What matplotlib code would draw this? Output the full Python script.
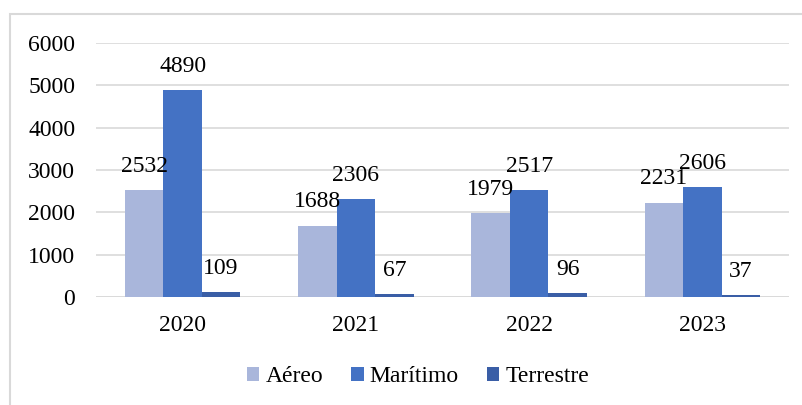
import numpy as np
import matplotlib.pyplot as plt
from matplotlib.patches import Rectangle

years = ['2020', '2021', '2022', '2023']
aereo = [2532, 1688, 1979, 2231]
maritimo = [4890, 2306, 2517, 2606]
terrestre = [109, 67, 96, 37]

series = [('Aéreo', aereo, '#A9B6DB'),
          ('Marítimo', maritimo, '#4472C4'),
          ('Terrestre', terrestre, '#3A5EA6')]

plt.rcParams['font.family'] = ['Liberation Serif', 'DejaVu Serif']
fs = 17

fig = plt.figure(figsize=(8.03, 4.05), dpi=100)
# light outer frame like the chart area border
fig.patches.append(Rectangle((10 / 803, -0.1), 1.0, 1 - 14 / 405 + 0.1,
                             transform=fig.transFigure, fill=False,
                             edgecolor='#D9D9D9', linewidth=1.5))

ax = fig.add_axes([96 / 803, 1 - 297 / 405, (789 - 96) / 803, (297 - 43) / 405])

x = np.arange(len(years))
w = 0.222
for i, (name, vals, col) in enumerate(series):
    pos = x + (i - 1) * w
    ax.bar(pos, vals, width=w, color=col, label=name, zorder=2)
    for px, v in zip(pos, vals):
        ax.annotate(str(v), (px, v), xytext=(0, 17), textcoords='offset points',
                    ha='center', va='center', fontsize=fs, zorder=3)

ax.set_xlim(-0.5, len(years) - 0.5)
ax.set_ylim(0, 6000)
ax.set_yticks(range(0, 6001, 1000))
ax.set_xticks(x)
ax.set_xticklabels(years)
ax.tick_params(axis='both', length=0, labelsize=fs)
ax.tick_params(axis='y', pad=15)
ax.tick_params(axis='x', pad=13)
ax.grid(axis='y', color='#D9D9D9', linewidth=1.2, zorder=0)
ax.axhline(0, color='#D9D9D9', linewidth=1.8, zorder=1)
for s in ax.spines.values():
    s.set_visible(False)

fig.legend(loc='center', bbox_to_anchor=(418 / 803, 1 - 377 / 405), ncol=3,
           frameon=False, fontsize=fs, handlelength=0.52, handleheight=0.52,
           handletextpad=0.25, columnspacing=1.2)

fig.savefig('out.png', dpi=100)
